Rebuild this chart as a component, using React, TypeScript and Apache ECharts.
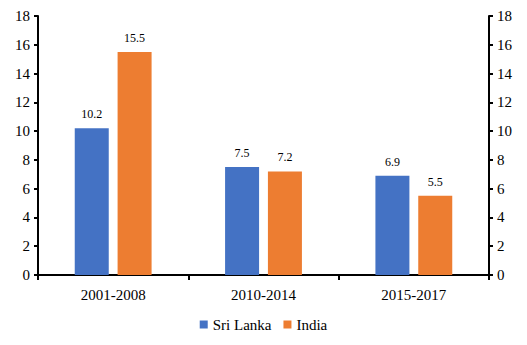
import React, { useEffect, useRef } from "react";
import * as echarts from "echarts";

const categories = ["2001-2008", "2010-2014", "2015-2017"];
const sriLanka = [10.2, 7.5, 6.9];
const india = [15.5, 7.2, 5.5];
const seriesNames = ["Sri Lanka", "India"];

const FONT = "Liberation Serif";

export default function App() {
  const ref = useRef<HTMLDivElement>(null);
  useEffect(() => {
    if (!ref.current) return;
    const chart = echarts.init(ref.current, undefined, { renderer: "svg" });
    const valueAxis = (pos: "left" | "right") => ({
      type: "value" as const,
      position: pos,
      min: 0,
      max: 18,
      interval: 2,
      axisLine: { show: true, lineStyle: { color: "#000", width: 2 } },
      axisTick: { show: true, length: 4, lineStyle: { color: "#000", width: 2 } },
      axisLabel: { color: "#000", fontFamily: FONT, fontSize: 15, margin: 8 },
      splitLine: { show: false },
    });
    const label = {
      show: true,
      position: "top" as const,
      distance: 8,
      fontFamily: FONT,
      fontSize: 12,
      color: "#000",
      formatter: (p: any) => p.value.toFixed(1),
    };
    chart.setOption({
      animation: false,
      backgroundColor: "#fff",
      textStyle: { fontFamily: FONT },
      grid: { left: 38, right: 38, top: 16, bottom: 70, containLabel: false },
      legend: {
        bottom: 8,
        left: "center",
        itemWidth: 8,
        itemHeight: 8,
        itemGap: 12,
        icon: "rect",
        textStyle: { fontFamily: FONT, fontSize: 15, color: "#000" },
        data: seriesNames,
      },
      xAxis: {
        type: "category",
        data: categories,
        axisLine: { lineStyle: { color: "#000", width: 2 } },
        axisTick: { show: true, length: 5, lineStyle: { color: "#000", width: 2 } },
        axisLabel: { color: "#000", fontFamily: FONT, fontSize: 15, margin: 12 },
      },
      yAxis: [valueAxis("left"), valueAxis("right")],
      series: [
        {
          name: seriesNames[0],
          type: "bar",
          data: sriLanka,
          barWidth: 34,
          barGap: "26%",
          itemStyle: { color: "#4472C4" },
          label,
        },
        {
          name: seriesNames[1],
          type: "bar",
          data: india,
          barWidth: 34,
          barGap: "26%",
          itemStyle: { color: "#ED7D31" },
          label,
        },
      ],
    });
    return () => chart.dispose();
  }, []);
  return <div ref={ref} style={{ width: 527, height: 345, position: "absolute", left: 0, top: 0 }} />;
}
